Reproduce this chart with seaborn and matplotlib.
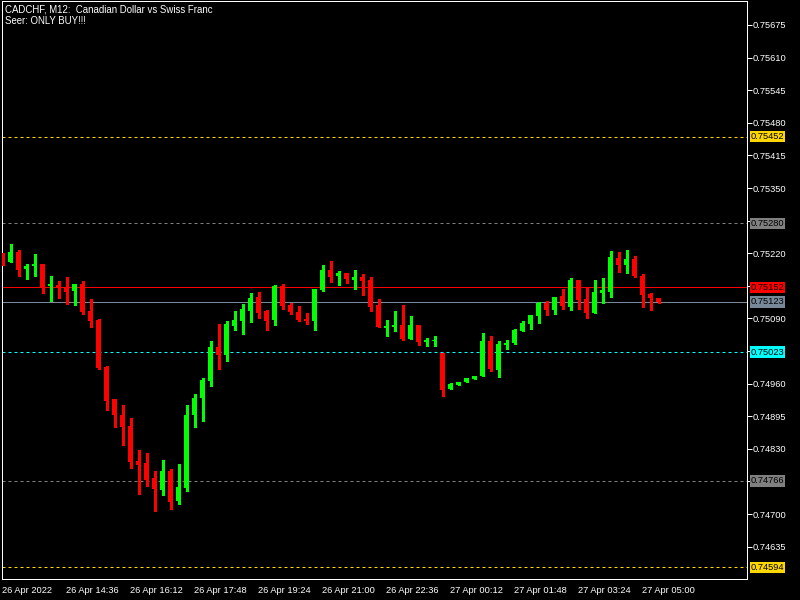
import matplotlib
matplotlib.use("Agg")
import matplotlib.pyplot as plt
import seaborn as sns
import numpy as np
import pandas as pd

# ---------------- data ----------------
opens = [0.75217, 0.75202, 0.75223, 0.75188, 0.75195, 0.75199, 0.75154, 0.75156, 0.75153, 0.75144,
         0.75158, 0.75104, 0.75086, 0.74994, 0.74929, 0.74897, 0.74875, 0.74805, 0.74801, 0.74771,
         0.74749, 0.74785, 0.74726, 0.74752, 0.74897, 0.74931, 0.74966, 0.75034, 0.75018, 0.75074,
         0.75084, 0.75104, 0.75132, 0.75104, 0.75086, 0.75154, 0.75116, 0.75102, 0.75088, 0.75084,
         0.75146, 0.75187, 0.75174, 0.75181, 0.75166, 0.75172, 0.75166, 0.75116, 0.75070, 0.75072,
         0.75076, 0.75050, 0.75076, 0.75044, 0.75046, 0.75022, 0.74949, 0.74958, 0.74964, 0.74970,
         0.74976, 0.75046, 0.74988, 0.75038, 0.75042, 0.75064, 0.75078, 0.75094, 0.75120, 0.75106,
         0.75134, 0.75112, 0.75166, 0.75128, 0.75100, 0.75140, 0.75142, 0.75211, 0.75197, 0.75209,
         0.75174, 0.75138, 0.75130]
highs = [0.75220, 0.75239, 0.75227, 0.75199, 0.75219, 0.75199, 0.75174, 0.75164, 0.75172, 0.75158,
         0.75164, 0.75128, 0.75088, 0.74996, 0.74929, 0.74917, 0.74891, 0.74827, 0.74821, 0.74785,
         0.74807, 0.74789, 0.74799, 0.74917, 0.74939, 0.74972, 0.75046, 0.75078, 0.75084, 0.75104,
         0.75118, 0.75140, 0.75142, 0.75106, 0.75156, 0.75158, 0.75120, 0.75114, 0.75100, 0.75148,
         0.75197, 0.75205, 0.75185, 0.75181, 0.75187, 0.75179, 0.75172, 0.75128, 0.75086, 0.75104,
         0.75116, 0.75094, 0.75076, 0.75052, 0.75056, 0.75022, 0.74962, 0.74964, 0.74972, 0.74976,
         0.75062, 0.75056, 0.75046, 0.75048, 0.75068, 0.75084, 0.75096, 0.75122, 0.75124, 0.75132,
         0.75148, 0.75170, 0.75166, 0.75150, 0.75166, 0.75170, 0.75225, 0.75223, 0.75227, 0.75215,
         0.75178, 0.75140, 0.75130]
lows = [0.75197, 0.75202, 0.75174, 0.75168, 0.75174, 0.75140, 0.75124, 0.75130, 0.75118, 0.75116,
        0.75098, 0.75072, 0.74990, 0.74907, 0.74873, 0.74837, 0.74791, 0.74740, 0.74757, 0.74706,
        0.74738, 0.74710, 0.74720, 0.74747, 0.74873, 0.74885, 0.74956, 0.74990, 0.75006, 0.75066,
        0.75060, 0.75082, 0.75090, 0.75066, 0.75076, 0.75108, 0.75098, 0.75084, 0.75078, 0.75066,
        0.75144, 0.75162, 0.75156, 0.75160, 0.75148, 0.75136, 0.75104, 0.75072, 0.75056, 0.75064,
        0.75048, 0.75050, 0.75038, 0.75036, 0.75036, 0.74935, 0.74949, 0.74958, 0.74964, 0.74970,
        0.74976, 0.74986, 0.74974, 0.75030, 0.75040, 0.75064, 0.75068, 0.75080, 0.75096, 0.75098,
        0.75108, 0.75106, 0.75108, 0.75090, 0.75100, 0.75120, 0.75132, 0.75183, 0.75181, 0.75172,
        0.75112, 0.75106, 0.75120]
closes = [0.75199, 0.75223, 0.75187, 0.75195, 0.75199, 0.75153, 0.75158, 0.75150, 0.75142, 0.75158,
          0.75102, 0.75084, 0.74992, 0.74925, 0.74897, 0.74873, 0.74803, 0.74797, 0.74767, 0.74751,
          0.74785, 0.74724, 0.74754, 0.74897, 0.74931, 0.74968, 0.75034, 0.75018, 0.75078, 0.75086,
          0.75108, 0.75130, 0.75100, 0.75084, 0.75154, 0.75114, 0.75102, 0.75086, 0.75084, 0.75148,
          0.75187, 0.75172, 0.75181, 0.75168, 0.75172, 0.75164, 0.75112, 0.75072, 0.75074, 0.75076,
          0.75050, 0.75076, 0.75044, 0.75048, 0.75048, 0.74947, 0.74960, 0.74964, 0.74972, 0.74976,
          0.75046, 0.74990, 0.75040, 0.75042, 0.75066, 0.75080, 0.75096, 0.75120, 0.75106, 0.75132,
          0.75114, 0.75166, 0.75126, 0.75100, 0.75142, 0.75146, 0.75213, 0.75197, 0.75209, 0.75174,
          0.75136, 0.75130, 0.75123]

time_labels = ["26 Apr 2022", "26 Apr 14:36", "26 Apr 16:12", "26 Apr 17:48", "26 Apr 19:24",
               "26 Apr 21:00", "26 Apr 22:36", "27 Apr 00:12", "27 Apr 01:48", "27 Apr 03:24",
               "27 Apr 05:00"]
price_ticks = [0.75675, 0.75610, 0.75545, 0.75480, 0.75415, 0.75350, 0.75285, 0.75220, 0.75155,
               0.75090, 0.75025, 0.74960, 0.74895, 0.74830, 0.74765, 0.74700, 0.74635]
# tick labels covered by the price boxes in the reference
hidden_ticks = [0.75285, 0.75155, 0.75025, 0.74765]

level_prices = [0.75452, 0.75280, 0.75023, 0.74766, 0.74594]
level_colors = ["#FFD700", "#808080", "#00FFFF", "#808080", "#FFD700"]
ask_price = 0.75152
bid_price = 0.75123

title_line1 = "CADCHF, M12:  Canadian Dollar vs Swiss Franc"
title_line2 = "Seer: ONLY BUY!!!"

# ---------------- style ----------------
sns.set_style("dark", {"axes.facecolor": "black", "figure.facecolor": "black",
                       "axes.edgecolor": "white", "grid.color": "black"})
plt.rcParams["font.family"] = ["Liberation Sans", "DejaVu Sans"]

df = pd.DataFrame({"open": opens, "high": highs, "low": lows, "close": closes})
df["idx"] = np.arange(len(df))
df["up"] = df["close"] >= df["open"]
df["color"] = np.where(df["up"], "#00FF00", "#FF0000")
df["bottom"] = df[["open", "close"]].min(axis=1)
df["height"] = np.maximum((df["close"] - df["open"]).abs(), 0.000016)

fig = plt.figure(figsize=(8, 6), dpi=100)
W, H = 800, 600
ax_left, ax_right, ax_top, ax_bottom = 1.7, 746.7, 1.0, 579.0
ax = fig.add_axes([ax_left / W, (H - ax_bottom) / H, (ax_right - ax_left) / W, (ax_bottom - ax_top) / H])
ax.set_facecolor("black")
ax.grid(False)

# level lines
for p, c in zip(level_prices, level_colors):
    ax.axhline(p, color=c, lw=0.72, ls=(0, (3, 3)), zorder=1)
ax.axhline(ask_price, color="#FF0000", lw=0.72, zorder=1)
ax.axhline(bid_price, color="#778899", lw=0.72, zorder=1)

# wicks
ax.vlines(df["idx"], df["low"], df["high"], colors=df["color"], lw=0.75, antialiased=False, zorder=3)
# bodies
ax.bar(df["idx"], df["height"], bottom=df["bottom"], width=0.62, color=df["color"],
       linewidth=0, antialiased=False, zorder=4)

# limits: bar i centre at pixel 2.5 + 8 i
px_per_bar = 8.0
ax.set_xlim((ax_left - 2.5) / px_per_bar, (ax_right - 2.5) / px_per_bar)
slope = 0.0104 / 521.7   # price per pixel
ax.set_ylim(0.75675 - (ax_bottom - 25.0) * slope, 0.75675 + (25.0 - ax_top) * slope)

# ticks
ax.yaxis.tick_right()
ax.set_yticks(price_ticks)
ax.set_yticklabels(["" if v in hidden_ticks else f"{v:.5f}" for v in price_ticks])
ax.set_xticks(np.arange(0, 8 * len(time_labels), 8))
ax.set_xticklabels(time_labels, ha="left")
ax.tick_params(axis="y", which="both", direction="out", length=3.6, width=0.72, color="white",
               labelcolor="white", labelsize=6.7, pad=1.0, left=False, right=True)
ax.tick_params(axis="x", which="both", direction="out", length=3.0, width=0.72, color="white",
               labelcolor="white", labelsize=6.7, pad=2.0)
for s in ax.spines.values():
    s.set_color("white")
    s.set_linewidth(0.72)
    s.set_visible(True)

# price labels on the right
def price_box(p, fc, tc="black"):
    ax.annotate(f"{p:.5f}", xy=(1.0, p), xycoords=("axes fraction", "data"),
                xytext=(2.9, 0), textcoords="offset points", ha="left", va="center",
                fontsize=6.7, color=tc, annotation_clip=False, zorder=10,
                bbox=dict(boxstyle="square,pad=0.12", fc=fc, ec="none"))

for p, c in zip(level_prices, level_colors):
    price_box(p, c)
price_box(ask_price, "#FF0000")
price_box(bid_price, "#778899")

fig.text(5 / W, 1 - 9.5 / H, title_line1, color="white", fontsize=6.9, ha="left", va="center")
fig.text(5 / W, 1 - 20.5 / H, title_line2, color="white", fontsize=6.9, ha="left", va="center")

fig.savefig("out.png", dpi=100, facecolor="black")
